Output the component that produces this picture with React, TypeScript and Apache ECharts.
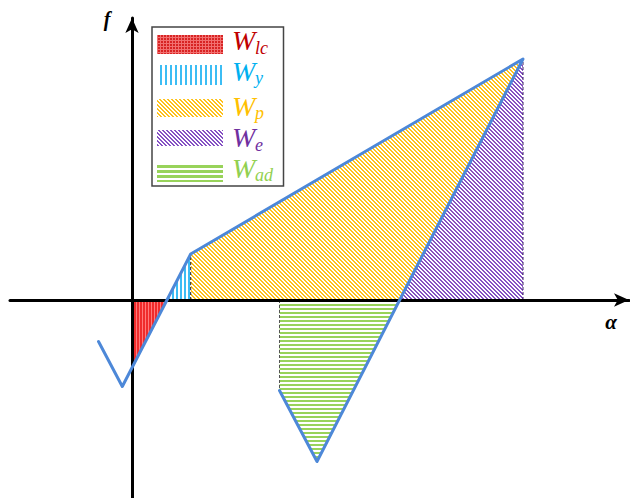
import React, { useEffect, useRef } from 'react';
import * as echarts from 'echarts';

// ---- data (abstract units; y-axis at x = 0, x-axis at y = 0) ----
const xRange: [number, number] = [-12.2, 49.7];
const yRange: [number, number] = [-19.8, 28.2];

// the blue f(α) polyline, in drawing order
const curvePoints: [number, number][] = [
  [-3.35, -4.15],
  [-0.97, -8.65],
  [5.87, 4.6],
  [39.1, 24.1],
  [18.5, -16.15],
  [14.75, -9.05],
];

// shaded regions (vertices)
const regionWlc: [number, number][] = [[0, 0], [3.49, 0], [0, -6.77]];
const regionWy: [number, number][] = [[3.49, 0], [5.87, 4.6], [5.87, 0]];
const regionWp: [number, number][] = [[5.87, 0], [5.87, 4.6], [39.1, 24.1], [26.76, 0]];
const regionWe: [number, number][] = [[26.76, 0], [39.1, 24.1], [39.1, 0]];
const regionWad: [number, number][] = [[14.75, 0], [14.75, -9.05], [18.5, -16.15], [26.76, 0]];

// dashed drop lines: [x, yFrom, yTo]
const dropLines: [number, number, number][] = [
  [5.87, 0, 4.6],
  [14.75, 0, -9.05],
  [39.1, 0, 24.1],
];

// legend texts
const legendMain = ['W', 'W', 'W', 'W', 'W'];
const legendSub = ['lc', 'y', 'p', 'e', 'ad'];
const axisNames = ['α', 'f'];

// ---- styles ----
const lineColor = '#4D88D8';
const dropColors = ['#222222', '#555555', '#3A1F66'];
const labelColors = ['#C00000', '#00B0F0', '#FFC000', '#7030A0', '#92D050'];

type Pat = { image: string; repeat: string; imageWidth: number; imageHeight: number };

function makeTile(
  w: number,
  h: number,
  bg: string,
  fg: string,
  on: (x: number, y: number) => boolean
): Pat {
  const c = document.createElement('canvas');
  c.width = w;
  c.height = h;
  const ctx = c.getContext('2d')!;
  ctx.fillStyle = bg;
  ctx.fillRect(0, 0, w, h);
  ctx.fillStyle = fg;
  for (let y = 0; y < h; y++) {
    for (let x = 0; x < w; x++) {
      if (on(x, y)) ctx.fillRect(x, y, 1, 1);
    }
  }
  return { image: c.toDataURL(), repeat: 'repeat', imageWidth: w, imageHeight: h };
}

const mod = (a: number, n: number) => ((a % n) + n) % n;

export default function App() {
  const ref = useRef<HTMLDivElement>(null);

  useEffect(() => {
    document.body.style.margin = '0';
    if (!ref.current) return;
    const chart = echarts.init(ref.current, undefined, { renderer: 'svg' });

    const patRed = makeTile(3, 3, '#F02C2C', '#FF7A7A', (x) => x === 1);
    const patRedLeg = makeTile(3, 3, '#D82424', '#F27070', (x, y) => x === 1 || y === 1);
    const patBlue = makeTile(4, 4, '#FFFFFF', '#3CBDF4', (x) => x < 2);
    const patBlueLeg = makeTile(5, 5, '#FFFFFF', '#3CBDF4', (x) => x < 2);
    const patYellow = makeTile(4, 4, '#FFFFFF', '#FFC21A', (x, y) => mod(x - y, 4) < 2);
    const patPurple = makeTile(4, 4, '#FFFFFF', '#8551C4', (x, y) => mod(x - y, 4) < 2);
    const patGreen = makeTile(4, 4, '#FFFFFF', '#98D35A', (_x, y) => y < 2);
    const patGreenLeg = makeTile(5, 5, '#FFFFFF', '#98D35A', (_x, y) => y < 3);

    const regionSeries = (name: string, pts: [number, number][], fill: Pat) => ({
      type: 'custom',
      name,
      z: 1,
      silent: true,
      data: pts,
      encode: { x: 0, y: 1 },
      renderItem: (params: any, api: any) => {
        if (params.dataIndex !== 0) return null;
        return {
          type: 'polygon',
          shape: { points: pts.map((p) => api.coord(p)) },
          style: { fill, stroke: 'none' },
        };
      },
    });

    const legendFills = [patRedLeg, patBlueLeg, patYellow, patPurple, patGreenLeg];
    const swatchRows = [
      [35, 19],
      [65, 20],
      [99, 18],
      [130, 16],
      [163, 19],
    ];
    const labelMid = [40.7, 71, 106, 137.5, 168.3];
    const serif = '"Liberation Serif", "DejaVu Serif", serif';

    const graphics: any[] = [
      {
        type: 'rect',
        z: 10,
        shape: { x: 152, y: 27, width: 131.5, height: 159 },
        style: { fill: '#FFFFFF', stroke: '#444444', lineWidth: 1.5 },
      },
    ];
    legendMain.forEach((m, i) => {
      graphics.push({
        type: 'rect',
        z: 11,
        shape: { x: 157, y: swatchRows[i][0], width: 66, height: swatchRows[i][1] },
        style: { fill: legendFills[i] },
      });
      graphics.push({
        type: 'text',
        z: 11,
        x: 232,
        y: labelMid[i],
        style: {
          text: m,
          fill: labelColors[i],
          fontSize: 28,
          fontStyle: 'italic',
          fontFamily: serif,
          align: 'left',
          verticalAlign: 'middle',
        },
      });
      graphics.push({
        type: 'text',
        z: 11,
        x: 255,
        y: labelMid[i] + 7,
        style: {
          text: legendSub[i],
          fill: labelColors[i],
          fontSize: 18,
          fontStyle: 'italic',
          fontFamily: serif,
          align: 'left',
          verticalAlign: 'middle',
        },
      });
    });
    graphics.push({
      type: 'text',
      z: 11,
      x: 611,
      y: 322,
      style: {
        text: axisNames[0],
        fill: '#000',
        fontSize: 21,
        fontStyle: 'italic',
        fontWeight: 'bold',
        fontFamily: serif,
        align: 'center',
        verticalAlign: 'middle',
      },
    });
    graphics.push({
      type: 'text',
      z: 11,
      x: 107,
      y: 19,
      style: {
        text: axisNames[1],
        fill: '#000',
        fontSize: 20,
        fontStyle: 'italic',
        fontWeight: 'bold',
        fontFamily: serif,
        align: 'center',
        verticalAlign: 'middle',
      },
    });

    const axisCommon = {
      type: 'value',
      z: 3,
      splitLine: { show: false },
      axisTick: { show: false },
      axisLabel: { show: false },
      axisLine: {
        show: true,
        onZero: true,
        symbol: ['none', 'arrow'],
        symbolSize: [10, 15],
        lineStyle: { color: '#000000', width: 3 },
      },
    };

    chart.setOption({
      animation: false,
      backgroundColor: '#FFFFFF',
      grid: { left: 10, right: 1, top: 18, bottom: 0, containLabel: false },
      xAxis: { ...axisCommon, min: xRange[0], max: xRange[1] },
      yAxis: { ...axisCommon, min: yRange[0], max: yRange[1] },
      graphic: graphics,
      series: [
        regionSeries('Wlc', regionWlc, patRed),
        regionSeries('Wy', regionWy, patBlue),
        regionSeries('Wp', regionWp, patYellow),
        regionSeries('We', regionWe, patPurple),
        regionSeries('Wad', regionWad, patGreen),
        {
          type: 'custom',
          name: 'drops',
          z: 2,
          silent: true,
          data: dropLines,
          encode: { x: 0, y: [1, 2] },
          renderItem: (params: any, api: any) => {
            const d = dropLines[params.dataIndex];
            const a = api.coord([d[0], d[1]]);
            const b = api.coord([d[0], d[2]]);
            return {
              type: 'line',
              shape: { x1: a[0], y1: a[1], x2: b[0], y2: b[1] },
              style: {
                stroke: dropColors[params.dataIndex],
                lineWidth: 1,
                lineDash: [3, 2],
              },
            };
          },
        },
        {
          type: 'line',
          name: 'f',
          z: 5,
          silent: true,
          data: curvePoints,
          showSymbol: false,
          symbol: 'none',
          lineStyle: { color: lineColor, width: 3, join: 'round', cap: 'round' },
        },
      ],
    });

    return () => chart.dispose();
  }, []);

  return (
    <div
      ref={ref}
      style={{ position: 'fixed', left: 0, top: 0, width: 630, height: 498 }}
    />
  );
}
